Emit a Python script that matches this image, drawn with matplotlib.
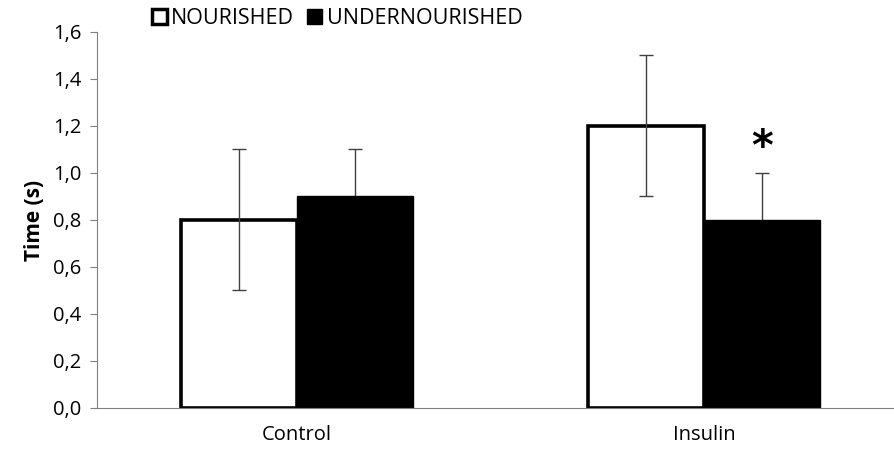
import numpy as np, matplotlib
matplotlib.use("Agg")
import matplotlib.pyplot as plt
from matplotlib.patches import Patch

groups = ["Control", "Insulin"]
nourished = [0.8, 1.2]
nourished_err = [0.3, 0.3]
under = [0.9, 0.8]
under_err = [0.2, 0.2]
yticks = [0.0, 0.2, 0.4, 0.6, 0.8, 1.0, 1.2, 1.4, 1.6]

plt.rcParams["font.family"] = ["Open Sans", "DejaVu Sans"]
fig = plt.figure(figsize=(8.95, 4.7), dpi=100)
ax = fig.add_axes([0.108, 0.132, 0.89, 0.80])

x = np.arange(len(groups))
w = 0.285
ekw = dict(fmt="none", ecolor="#404040", elinewidth=1, capsize=5, capthick=1)
ax.bar(x - w/2, nourished, w, color="white", edgecolor="black", linewidth=2.6, zorder=2)
ax.errorbar(x - w/2, nourished, yerr=nourished_err, zorder=3, **ekw)
# lower half of these bars is hidden behind the black bars
ax.errorbar(x + w/2, under, yerr=under_err, zorder=1, **ekw)
ax.bar(x + w/2, under, w, color="black", edgecolor="black", linewidth=1, zorder=2)
# significance mark
ax.text(x[1] + w/2, under[1] + under_err[1] + 0.015, "*", ha="center", va="bottom",
        fontsize=30, fontweight="bold", family="DejaVu Sans")

ax.set_xlim(-0.491, 1.464)
ax.set_ylim(0, 1.6)
ax.set_yticks(yticks)
ax.set_yticklabels([f"{v:.1f}".replace(".", ",") for v in yticks], fontsize=14.5)
ax.set_xticks(x)
ax.set_xticklabels(groups, fontsize=14.5)
ax.tick_params(axis="x", length=0, pad=12)
ax.tick_params(axis="y", length=5, color="#808080", pad=6)
for s in ["top", "right"]:
    ax.spines[s].set_visible(False)
for s in ["left", "bottom"]:
    ax.spines[s].set_color("#808080")
ax.set_ylabel("Time (s)", fontsize=15, fontweight="bold", labelpad=6)

handles = [Patch(facecolor="white", edgecolor="black", linewidth=2.5),
           Patch(facecolor="black", edgecolor="black")]
fig.legend(handles, ["NOURISHED", "UNDERNOURISHED"], loc="upper left",
           bbox_to_anchor=(0.148, 1.025), ncol=2, frameon=False, fontsize=15.5,
           handlelength=0.7, handleheight=0.7, handletextpad=0.2, columnspacing=0.6)

fig.savefig("out.png", dpi=100)
